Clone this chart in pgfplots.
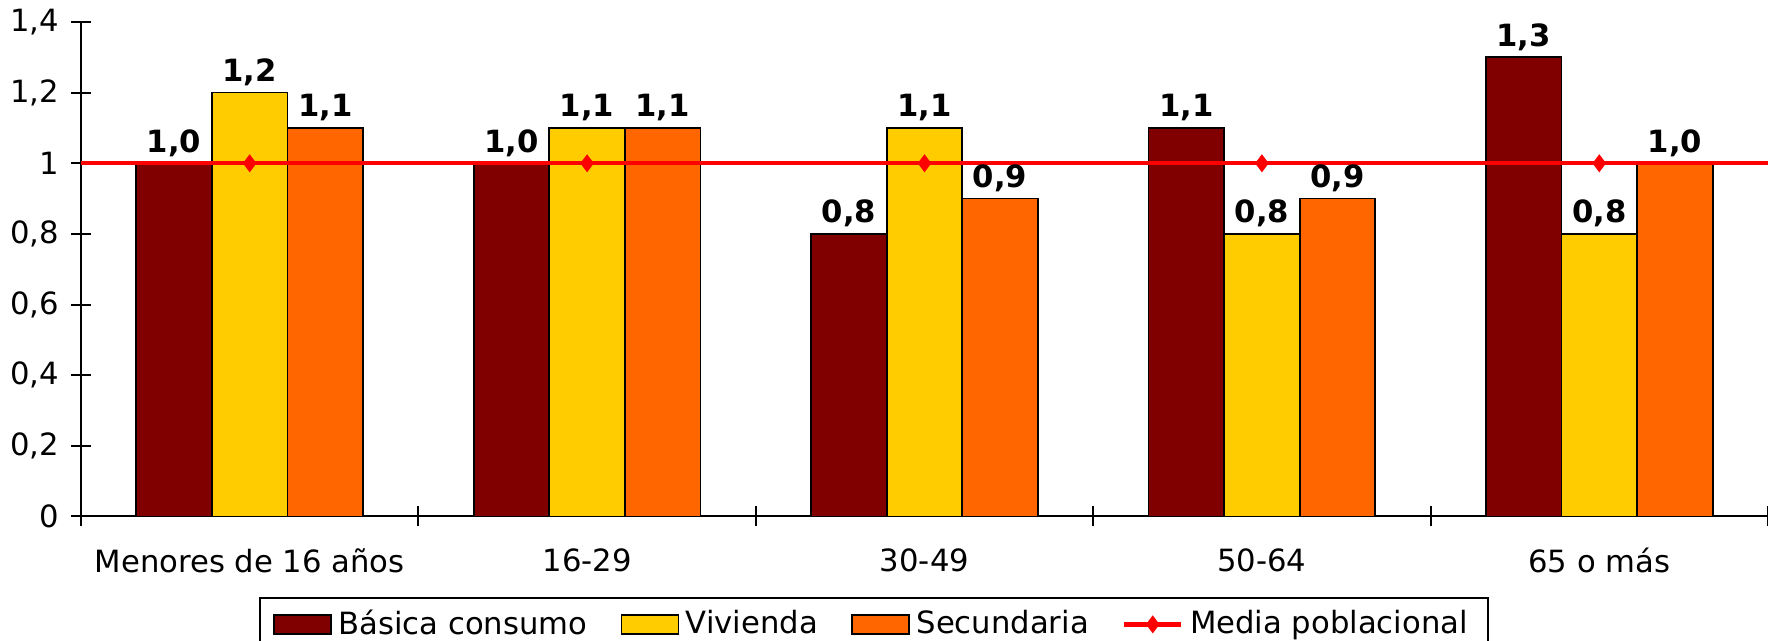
\documentclass[border=0pt]{standalone}
\usepackage{fontspec}
\setmainfont{DejaVu Sans}
\usepackage{pgfplots}
\pgfplotsset{compat=1.18}
\definecolor{basica}{HTML}{800000}
\definecolor{vivienda}{HTML}{FFCC00}
\definecolor{secundaria}{HTML}{FF6600}
\definecolor{media}{HTML}{FF0000}

\newcommand{\fs}{\fontsize{9.2pt}{11pt}\selectfont}

\pgfplotsset{
  barra/.style={draw=black, line width=0.5pt, area legend,
    point meta=y, nodes near coords={\pgfmathprintnumber[fixed,fixed zerofill,precision=1,use comma,assume math mode=true]{\pgfplotspointmeta}},
    every node near coord/.append style={font=\fs\bfseries, black, yshift=-1.6pt}},
  medialeg/.style={legend image code/.code={%
    \draw[##1, mark indices={2}] plot coordinates {(0cm,0cm) (0.3cm,0cm) (0.6cm,0cm)};}},
}

\begin{document}
\begin{tikzpicture}[font=\fs]
\begin{axis}[
    scale only axis,
    width=506.1pt, height=148.35pt,
    xmin=-0.5, xmax=4.5, ymin=0, ymax=1.4,
    ybar=0pt, bar width=0.224,
    axis x line*=bottom, axis y line*=left,
    axis line style={line width=0.6pt},
    tick align=center, major tick length=6pt,
    tick style={black, line width=0.6pt},
    ytick={0,0.2,0.4,0.6,0.8,1,1.2,1.4},
    yticklabel style={/pgf/number format/.cd, use comma, assume math mode=true},
    xtick={-0.5,0.5,1.5,2.5,3.5,4.5},
    xticklabels={},
    extra x ticks={0,1,2,3,4},
    extra x tick labels={Menores de 16 años,16-29,30-49,50-64,65 o más},
    extra x tick style={major tick length=0pt, tick label style={yshift=-6pt}},
    ticklabel style={font=\fs},
    legend columns=4,
    legend style={at={(0.47,-0.163)}, anchor=north, draw=black, line width=0.5pt,
      font=\fs, inner xsep=4pt, inner ysep=1.5pt,
      /tikz/every even column/.append style={column sep=8pt}},
]
\addplot[barra, fill=basica] coordinates {(0,1.0) (1,1.0) (2,0.8) (3,1.1) (4,1.3)};
\addplot[barra, fill=vivienda] coordinates {(0,1.2) (1,1.1) (2,1.1) (3,0.8) (4,0.8)};
\addplot[barra, fill=secundaria] coordinates {(0,1.1) (1,1.1) (2,0.9) (3,0.9) (4,1.0)};
\addplot[sharp plot, media, line width=1.3pt, mark=diamond*, mark size=2.3pt,
  mark options={fill=media, draw=media, line width=0.5pt}, mark indices={2,3,4,5,6}, medialeg]
  coordinates {(-0.5,1) (0,1) (1,1) (2,1) (3,1) (4,1) (4.5,1)};
\legend{Básica consumo, Vivienda, Secundaria, Media poblacional}
\end{axis}
\pgfresetboundingbox
\path (-24.3pt,-37.35pt) rectangle (506.1pt,154.95pt);
\end{tikzpicture}
\end{document}
